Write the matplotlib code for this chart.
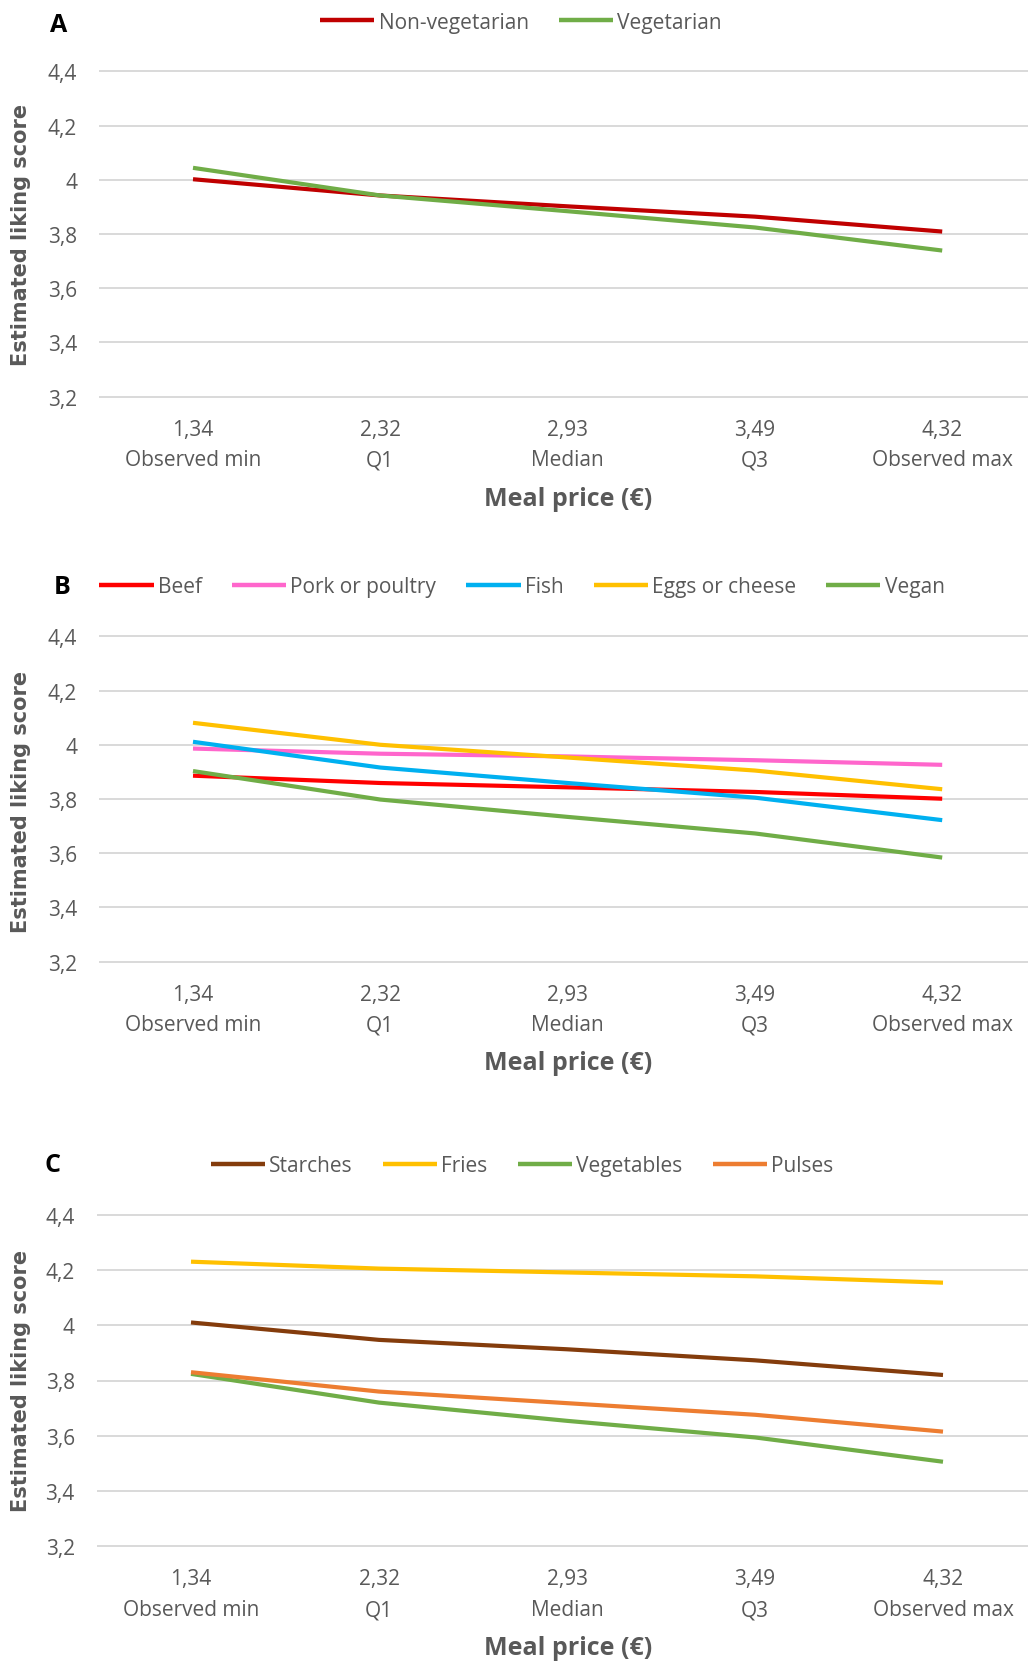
import matplotlib
matplotlib.use("Agg")
import matplotlib.pyplot as plt

# ---------------- data ----------------
price_labels = ["1,34", "2,32", "2,93", "3,49", "4,32"]
stat_labels = ["Observed min", "Q1", "Median", "Q3", "Observed max"]
y_ticks = [3.2, 3.4, 3.6, 3.8, 4.0, 4.2, 4.4]
y_tick_labels = ["3,2", "3,4", "3,6", "3,8", "4", "4,2", "4,4"]

# Panel A
nonveg = [4.002, 3.942, 3.902, 3.864, 3.809]
veg = [4.044, 3.942, 3.884, 3.824, 3.739]
# Panel B
beef = [3.886, 3.859, 3.843, 3.826, 3.801]
pork_poultry = [3.986, 3.967, 3.957, 3.943, 3.926]
fish = [4.011, 3.916, 3.859, 3.805, 3.722]
eggs_cheese = [4.081, 4.000, 3.953, 3.905, 3.836]
vegan = [3.903, 3.798, 3.734, 3.673, 3.584]
# Panel C
starches = [4.010, 3.947, 3.913, 3.873, 3.820]
fries = [4.230, 4.205, 4.191, 4.177, 4.154]
vegetables = [3.824, 3.720, 3.654, 3.594, 3.506]
pulses = [3.830, 3.760, 3.718, 3.676, 3.615]

# ---------------- layout ----------------
W, H = 1028, 1665
fig = plt.figure(figsize=(W / 100, H / 100), dpi=100)
fig.patch.set_facecolor("white")

FONT = ["Open Sans", "DejaVu Sans"]
GRAY = "#595959"

panels = [
    dict(letter="A", letter_xy=(59, 26),
         series=[("Non-vegetarian", nonveg, "#C00000"), ("Vegetarian", veg, "#70AD47")],
         y44=72.3, y32=397.7, x0=193, dx=187.3,
         legend_xy=(521, 23), xlabel_y=499, ylabel_y=235),
    dict(letter="B", letter_xy=(62, 587),
         series=[("Beef", beef, "#FF0000"), ("Pork or poultry", pork_poultry, "#FF66CC"),
                 ("Fish", fish, "#00B0F0"), ("Eggs or cheese", eggs_cheese, "#FFC000"),
                 ("Vegan", vegan, "#70AD47")],
         y44=637.3, y32=962.7, x0=193, dx=187.3,
         legend_xy=(522, 588), xlabel_y=1064, ylabel_y=802),
    dict(letter="C", letter_xy=(53, 1166),
         series=[("Starches", starches, "#843C0C"), ("Fries", fries, "#FFC000"),
                 ("Vegetables", vegetables, "#70AD47"), ("Pulses", pulses, "#ED7D31")],
         y44=1215.7, y32=1547.3, x0=191, dx=188,
         legend_xy=(522, 1167), xlabel_y=1649, ylabel_y=1381),
]

xlabels = [f"{p}\n{s}" for p, s in zip(price_labels, stat_labels)]

for p in panels:
    ppu = (p["y32"] - p["y44"]) / 1.2
    ext = 0.02
    top = p["y44"] - ext * ppu
    bot = p["y32"] + ext * ppu
    left = p["x0"] - 0.5 * p["dx"]
    right = W
    ax = fig.add_axes([left / W, 1 - bot / H, (right - left) / W, (bot - top) / H])
    ax.set_ylim(3.2 - ext, 4.4 + ext)
    ax.set_xlim(-0.5, (right - p["x0"]) / p["dx"])
    for name, vals, col in p["series"]:
        ax.plot(range(len(vals)), vals, color=col, lw=3.0, label=name,
                solid_joinstyle="round", solid_capstyle="butt")
    for s in ax.spines.values():
        s.set_visible(False)
    ax.set_yticks(y_ticks)
    ax.set_yticklabels(y_tick_labels, family=FONT, fontsize=15, color=GRAY)
    ax.set_xticks(range(5))
    ax.set_xticklabels(xlabels, family=FONT, fontsize=15, color=GRAY)
    for lbl in ax.get_xticklabels():
        lbl.set_linespacing(1.6)
    ax.tick_params(axis="both", length=0)
    ax.tick_params(axis="y", pad=16)
    ax.tick_params(axis="x", pad=12)
    ax.grid(axis="y", color="#D9D9D9", lw=1.4)
    ax.set_axisbelow(True)

    leg = ax.legend(loc="center", bbox_to_anchor=(p["legend_xy"][0] / W, 1 - p["legend_xy"][1] / H),
                    bbox_transform=fig.transFigure, ncol=len(p["series"]), frameon=False,
                    handlelength=2.6, handletextpad=0.2, columnspacing=1.45,
                    prop=dict(family=FONT, size=15), labelcolor=GRAY, borderpad=0,
                    borderaxespad=0)
    for line in leg.get_lines():
        line.set_linewidth(3.2)

    fig.text(p["letter_xy"][0] / W, 1 - p["letter_xy"][1] / H, p["letter"],
             fontsize=18, fontweight="bold", family=FONT, ha="center", va="center", color="black")
    fig.text(568 / W, 1 - p["xlabel_y"] / H, "Meal price (€)", fontsize=18, fontweight="bold",
             family=FONT, ha="center", va="center", color=GRAY)
    fig.text(21 / W, 1 - p["ylabel_y"] / H, "Estimated liking score", fontsize=15,
             fontweight="bold", family=["DejaVu Sans"], rotation=90,
             ha="center", va="center", color=GRAY)

fig.savefig("out.png", dpi=100, facecolor="white")
